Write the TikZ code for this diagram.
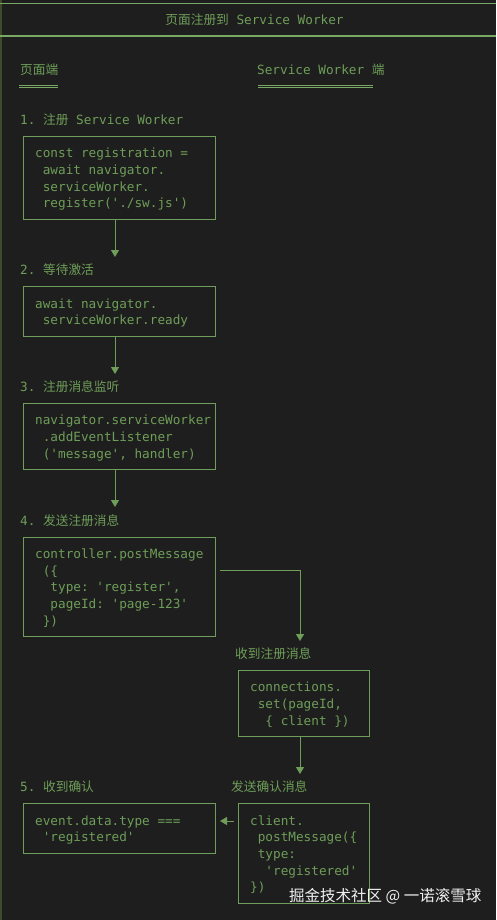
\documentclass[tikz,border=0pt]{standalone}
\usepackage{fontspec}
\setmonofont{DejaVu Sans Mono}
\newfontfamily\cjk{Noto Sans CJK SC}
\usetikzlibrary{arrows.meta}
\definecolor{bg}{HTML}{1E1E1E}
\definecolor{fg}{HTML}{6E9E58}
\definecolor{ln}{HTML}{6E9E5A}
\definecolor{hd}{HTML}{78A864}
\definecolor{edge}{HTML}{3E4A28}
\newcommand\zh[1]{{\cjk #1}}
\newcommand\ind{\hspace*{0.602em}}
\tikzset{
  basefont/.style={font=\fontsize{12.7}{16.7}\selectfont\ttfamily, text=fg},
  lbl/.style={basefont, inner sep=0pt, anchor=base west},
  box/.style={draw=ln, line width=1.1pt, anchor=north west, inner sep=0pt},
  code/.style={basefont, inner sep=0pt, align=left, anchor=west},
  arr/.style={draw=ln, line width=1pt, -{Triangle[width=8pt,length=7pt]}},
  ul/.style={draw=hd, line width=0.8pt},
}
\begin{document}
\begin{tikzpicture}[x=1pt,y=-1pt]
\useasboundingbox (0,0) rectangle (496,920);
\fill[bg] (0,0) rectangle (496,920);
% frame
\draw[edge, line width=1.5pt] (0.75,0) -- (0.75,920);
\draw[hd, line width=1.2pt] (0,3.5) -- (496,3.5);
\draw[hd, line width=1.2pt] (0,36) -- (496,36);
\node[basefont, inner sep=0pt, anchor=base] (title) at (254.5,25) {\zh{页面注册到} Service Worker};

% column headers
\node[lbl] (hpage) at (20,75) {\zh{页面端}};
\node[lbl] (hsw) at (257,75) {Service Worker \zh{端}};
\draw[ul] (19,85) -- (58,85) (19,87.5) -- (58,87.5);
\draw[ul] (258,85) -- (373,85) (258,87.5) -- (373,87.5);

% step labels
\node[lbl] (l1) at (20,124.5) {1. \zh{注册} Service Worker};
\node[lbl] (l2) at (20,274.5) {2. \zh{等待激活}};
\node[lbl] (l3) at (20,391.5) {3. \zh{注册消息监听}};
\node[lbl] (l4) at (20,525.5) {4. \zh{发送注册消息}};
\node[lbl] (l5) at (235,658.5) {\zh{收到注册消息}};
\node[lbl] (l6) at (231,791.5) {\zh{发送确认消息}};
\node[lbl] (l7) at (20,791.5) {5. \zh{收到确认}};

% boxes
\node[box, minimum width=192pt, minimum height=83pt] (b1) at (23,136) {};
\node[box, minimum width=192pt, minimum height=50pt] (b2) at (23,286) {};
\node[box, minimum width=192pt, minimum height=66pt] (b3) at (23,403) {};
\node[box, minimum width=192pt, minimum height=99pt] (b4) at (23,537) {};
\node[box, minimum width=131pt, minimum height=66pt] (b5) at (238,670) {};
\node[box, minimum width=131pt, minimum height=100pt] (b6) at (238,803) {};
\node[box, minimum width=192pt, minimum height=50pt] (b7) at (23,803) {};

% code
\node[code] (c1) at ([shift={(12,1.5)}]b1.west) {\strut const registration =\\\strut\ind await navigator.\\\strut\ind serviceWorker.\\\strut\ind register('./sw.js')};
\node[code] (c2) at ([shift={(12,1.5)}]b2.west) {\strut await navigator.\\\strut\ind serviceWorker.ready};
\node[code] (c3) at ([shift={(12,1.5)}]b3.west) {\strut navigator.serviceWorker\\\strut\ind .addEventListener\\\strut\ind ('message', handler)};
\node[code] (c4) at ([shift={(12,1.5)}]b4.west) {\strut controller.postMessage\\\strut\ind (\{\\\strut\ind\ind type: 'register',\\\strut\ind\ind pageId: 'page-123'\\\strut\ind \})};
\node[code] (c5) at ([shift={(12,1.5)}]b5.west) {\strut connections.\\\strut\ind set(pageId,\\\strut\ind\ind \{ client \})};
\node[code] (c6) at ([shift={(12,1.5)}]b6.west) {\strut client.\\\strut\ind postMessage(\{\\\strut\ind type:\\\strut\ind\ind 'registered'\\\strut \})};
\node[code] (c7) at ([shift={(12,1.5)}]b7.west) {\strut event.data.type ===\\\strut\ind 'registered'};

% arrow tips
\coordinate (t2) at (115,257);
\coordinate (t3) at (115,374);
\coordinate (t4) at (115,507);
\coordinate (t5) at (300,641);
\coordinate (t6) at (300,774);
\coordinate (t7) at (220,821);

% connectors
\draw[arr] (t2 |- b1.south) -- (t2);
\draw[arr] (t3 |- b2.south) -- (t3);
\draw[arr] (t4 |- b3.south) -- (t4);
\draw[arr] ([shift={(4,-16.5)}]b4.east) -| (t5);
\draw[arr] (t6 |- b5.south) -- (t6);
\draw[arr] ([xshift=-4pt]b6.west |- t7) -- (t7);

% watermark
\node[font=\cjk\fontsize{15.5}{18}\selectfont, text=white!88!gray, anchor=base west, inner sep=0pt] (wm) at (289,901) {掘金技术社区 @ 一诺滚雪球};
\end{tikzpicture}
\end{document}
